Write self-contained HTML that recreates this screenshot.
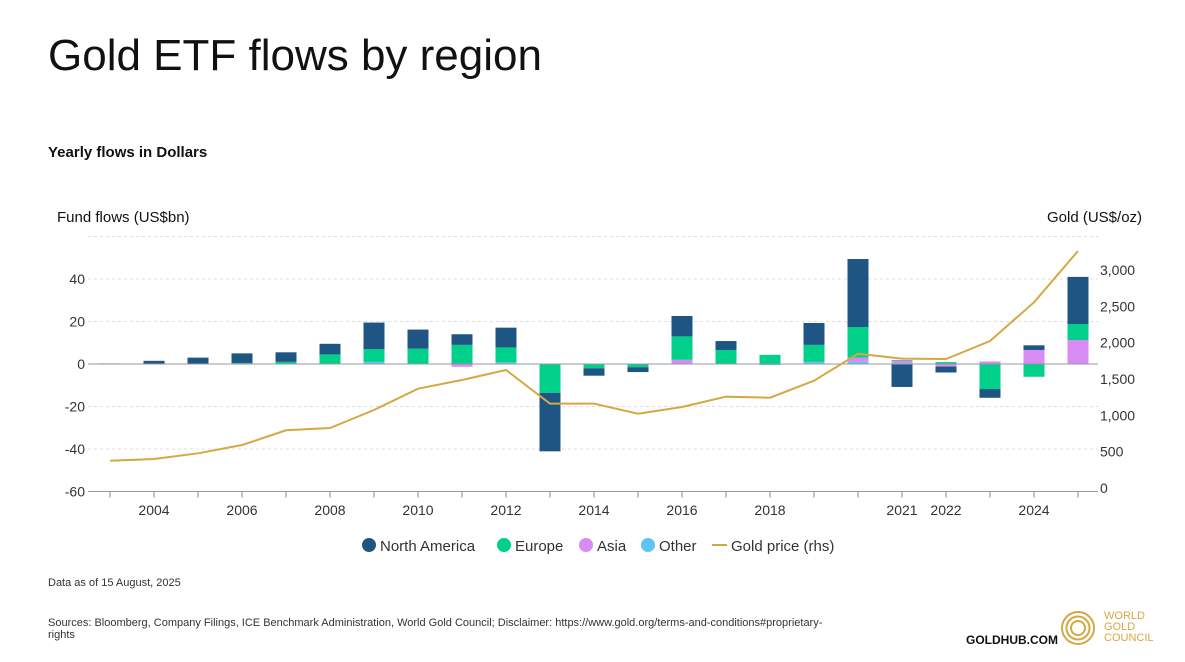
<!DOCTYPE html>
<html><head><meta charset="utf-8"><style>
body{margin:0;width:1185px;height:662px;background:#fff;font-family:"Liberation Sans",sans-serif;color:#111;overflow:hidden;position:relative}
.t{position:absolute;white-space:nowrap}
</style></head><body>
<div class="t" style="left:48px;top:31px;font-size:44px;color:#111">Gold ETF flows by region</div>
<div class="t" style="left:48px;top:144px;font-size:15px;font-weight:bold">Yearly flows in Dollars</div>
<div class="t" style="left:57px;top:209px;font-size:15px">Fund flows (US$bn)</div>
<div class="t" style="left:1047px;top:209px;font-size:15px">Gold (US$/oz)</div>
<svg id="chart" width="1185" height="662" style="position:absolute;left:0;top:0"></svg>
<div class="t" style="left:48px;top:577px;font-size:11px;color:#333">Data as of 15 August, 2025</div>
<div class="t" style="left:48px;top:617px;font-size:11px;color:#333;line-height:12px">Sources: Bloomberg, Company Filings, ICE Benchmark Administration, World Gold Council; Disclaimer: https://www.gold.org/terms-and-conditions#proprietary-<br>rights</div>
<div class="t" style="left:966px;top:633px;font-size:12px;font-weight:bold">GOLDHUB.COM</div>
<svg width="40" height="40" style="position:absolute;left:1058px;top:608px">
<circle cx="20" cy="20" r="16" fill="none" stroke="#d4a843" stroke-width="2"/>
<circle cx="20" cy="20" r="11.5" fill="none" stroke="#d4a843" stroke-width="2"/>
<circle cx="20" cy="20" r="7" fill="none" stroke="#d4a843" stroke-width="2"/>
</svg>
<div class="t" style="left:1104px;top:611px;font-size:11px;line-height:11px;color:#d4a843">WORLD<br>GOLD<br>COUNCIL</div>
<script>
const years=[2003,2004,2005,2006,2007,2008,2009,2010,2011,2012,2013,2014,2015,2016,2017,2018,2019,2020,2021,2022,2023,2024,2025];
const northAmerica=[0,1.5,3,4.5,4.5,5,12.5,9,5,9.3,-27.5,-3.5,-2.3,9.6,4.2,0,10.3,32,-10.8,-2.8,-4.1,2.2,22.2];
const europe=[0.3,0,0,0.5,1,4.5,6,7,9,7,-13.6,-2,-1.5,11,6.6,4.3,8,14.4,0.3,0.9,-11.8,-6,7.5];
const asia=[0,0,0,0,0,0,0,0,-1.3,0,0,0,0,2,0,0,0,2,1.2,-1.2,1.2,6.6,11.3];
const other=[0,0,0,0,0,0,1,0.2,0,0.8,0,0,0,0,0,-0.5,1,1,0.4,0,0,0,0];
const goldPrice=[375,399,477,591,794,825,1073,1366,1486,1623,1160,1160,1022,1114,1256,1242,1476,1847,1779,1774,2022,2554,3260];
const leftTicks=[-60,-40,-20,0,20,40];
const rightTicks=[0,500,1000,1500,2000,2500,3000];
const xLabels=[2004,2006,2008,2010,2012,2014,2016,2018,2021,2022,2024];
const NS="http://www.w3.org/2000/svg";
const svg=document.getElementById('chart');
const X=y=>110+44*(y-2003);
const YL=v=>364-v*2.125;
const YR=v=>488-v*0.0727;
function mk(t,a,p){const e=document.createElementNS(NS,t);for(const k in a)e.setAttribute(k,a[k]);(p||svg).appendChild(e);return e;}
[60,40,20,-20,-40].forEach(v=>{const g=mk('line',{x1:88,x2:1098,y1:YL(v),y2:YL(v),stroke:'#ddd','stroke-dasharray':'3,3'});

});
leftTicks.forEach(v=>{const t=mk('text',{x:85,y:YL(v)+5,'font-size':14,fill:'#333','text-anchor':'end','font-family':'Liberation Sans'});t.textContent=v;

});
rightTicks.forEach(v=>{const t=mk('text',{x:1100,y:YR(v)+5,'font-size':14,fill:'#333','font-family':'Liberation Sans'});t.textContent=v.toLocaleString('en-US');

});
const cols=[['north-america',northAmerica,'#1f5582'],['europe',europe,'#00d08a'],['asia',asia,'#d88af5'],['other',other,'#5ec4f5']];
years.forEach((yr,i)=>{let pos=0,neg=0;
[3,2,1,0].forEach(ci=>{const [nm,arr,c]=cols[ci];const v=arr[i];if(!v)return;let y0,y1;
if(v>0){y0=pos;pos+=v;y1=pos;}else{y0=neg;neg+=v;y1=neg;}
const r=mk('rect',{x:X(yr)-10.5,width:21,y:Math.min(YL(y0),YL(y1)),height:Math.abs(YL(y1)-YL(y0)),fill:c});

});});
const z=mk('line',{x1:88,x2:1098,y1:YL(0),y2:YL(0),stroke:'#999'});


const ax=mk('line',{x1:88,x2:1098,y1:YL(-60),y2:YL(-60),stroke:'#999'});


years.forEach(yr=>{const tk=mk('line',{x1:X(yr),x2:X(yr),y1:YL(-60),y2:YL(-60)+6,stroke:'#888'});

});
xLabels.forEach(yr=>{const t=mk('text',{x:X(yr),y:515,'font-size':14,fill:'#333','text-anchor':'middle','font-family':'Liberation Sans'});t.textContent=yr;

});
const pl=mk('polyline',{points:years.map((yr,i)=>X(yr)+','+YR(goldPrice[i])).join(' '),fill:'none',stroke:'#d4a843','stroke-width':2});


const leg=[['North America','#1f5582',362],['Europe','#00d08a',497],['Asia','#d88af5',579],['Other','#5ec4f5',641]];
leg.forEach(([n,c,x])=>{const g=mk('g',{});

mk('circle',{cx:x+7,cy:545,r:7,fill:c},g);const t=mk('text',{x:x+18,y:551,'font-size':15,fill:'#333','font-family':'Liberation Sans'},g);t.textContent=n;});
const lg=mk('g',{});

mk('line',{x1:712,x2:727,y1:545,y2:545,stroke:'#d4a843','stroke-width':2},lg);
const lt=mk('text',{x:731,y:551,'font-size':15,fill:'#333','font-family':'Liberation Sans'},lg);lt.textContent='Gold price (rhs)';
</script>
</body></html>
